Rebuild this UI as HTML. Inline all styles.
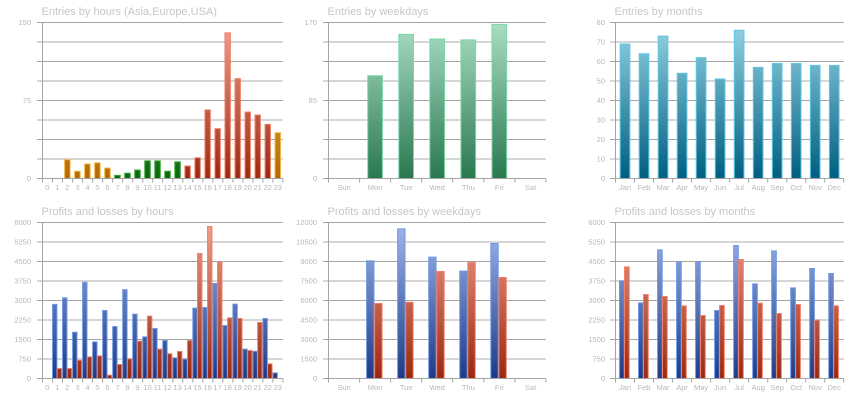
<!DOCTYPE html>
<html><head><meta charset="utf-8"><style>
html,body{margin:0;padding:0;background:#fff;}
svg{display:block;}
.t{font-family:"Liberation Sans",Arial,sans-serif;font-size:11px;fill:#c6c6c6;}
.l{font-family:"Liberation Sans",Arial,sans-serif;font-size:7.5px;fill:#b8b8b8;}
.r{text-anchor:end;}
.m{text-anchor:middle;}
.gd{stroke:#a4a4a4;stroke-width:1;fill:none;}
.gl{stroke:#d6d6d6;stroke-width:2;fill:none;}
rect{vector-effect:non-scaling-stroke;stroke-width:1;}
</style></head><body>
<svg width="860" height="400" viewBox="0 0 860 400" xmlns="http://www.w3.org/2000/svg">
<defs>
<linearGradient id="gO" gradientUnits="userSpaceOnUse" x1="0" y1="150" x2="0" y2="0"><stop offset="0" stop-color="#f5c878"/><stop offset="1" stop-color="#b26800"/></linearGradient>
<linearGradient id="gG" gradientUnits="userSpaceOnUse" x1="0" y1="150" x2="0" y2="0"><stop offset="0" stop-color="#80d080"/><stop offset="1" stop-color="#0c660c"/></linearGradient>
<linearGradient id="gR" gradientUnits="userSpaceOnUse" x1="0" y1="150" x2="0" y2="0"><stop offset="0" stop-color="#f0a290"/><stop offset="1" stop-color="#9c2810"/></linearGradient>
<linearGradient id="gW" gradientUnits="userSpaceOnUse" x1="0" y1="170" x2="0" y2="0"><stop offset="0" stop-color="#aadec4"/><stop offset="1" stop-color="#2a7850"/></linearGradient>
<linearGradient id="gT" gradientUnits="userSpaceOnUse" x1="0" y1="80" x2="0" y2="0"><stop offset="0" stop-color="#96d4e4"/><stop offset="1" stop-color="#005e80"/></linearGradient>
<linearGradient id="gB6" gradientUnits="userSpaceOnUse" x1="0" y1="6000" x2="0" y2="0"><stop offset="0" stop-color="#a0b8ec"/><stop offset="1" stop-color="#1c3a88"/></linearGradient>
<linearGradient id="gR6" gradientUnits="userSpaceOnUse" x1="0" y1="6000" x2="0" y2="0"><stop offset="0" stop-color="#f0a08c"/><stop offset="1" stop-color="#9a2810"/></linearGradient>
<linearGradient id="gB12" gradientUnits="userSpaceOnUse" x1="0" y1="12000" x2="0" y2="0"><stop offset="0" stop-color="#a0b8ec"/><stop offset="1" stop-color="#1c3a88"/></linearGradient>
<linearGradient id="gR12" gradientUnits="userSpaceOnUse" x1="0" y1="12000" x2="0" y2="0"><stop offset="0" stop-color="#f0a08c"/><stop offset="1" stop-color="#9a2810"/></linearGradient>
</defs>

<!-- ===== Chart 1 ===== -->
<text class="t" x="41.5" y="15">Entries by hours (Asia,Europe,USA)</text>
<path class="gl" d="M37 42H282.7M37 81H282.7M37 120H282.7M37 159H282.7"/>
<path class="gd" d="M37 22.5H282.7M37 61.5H282.7M37 100.5H282.7M37 139.5H282.7"/>
<g transform="translate(42.3,178.5) scale(1.002,-1.04)">
<g fill="url(#gO)" stroke="#f0b040">
<rect x="22.3" y="0" width="5.4" height="18"/>
<rect x="32.3" y="0" width="5.4" height="7"/>
<rect x="42.3" y="0" width="5.4" height="14"/>
<rect x="52.3" y="0" width="5.4" height="15"/>
<rect x="62.3" y="0" width="5.4" height="10"/>
<rect x="232.3" y="0" width="5.4" height="44"/>
</g>
<g fill="url(#gG)" stroke="#2ea02e">
<rect x="72.3" y="0" width="5.4" height="3"/>
<rect x="82.3" y="0" width="5.4" height="5"/>
<rect x="92.3" y="0" width="5.4" height="8"/>
<rect x="102.3" y="0" width="5.4" height="17"/>
<rect x="112.3" y="0" width="5.4" height="17"/>
<rect x="122.3" y="0" width="5.4" height="7"/>
<rect x="132.3" y="0" width="5.4" height="16"/>
</g>
<g fill="url(#gR)" stroke="#f08068">
<rect x="142.3" y="0" width="5.4" height="12"/>
<rect x="152.3" y="0" width="5.4" height="20"/>
<rect x="162.3" y="0" width="5.4" height="66"/>
<rect x="172.3" y="0" width="5.4" height="48"/>
<rect x="182.3" y="0" width="5.4" height="140"/>
<rect x="192.3" y="0" width="5.4" height="96"/>
<rect x="202.3" y="0" width="5.4" height="64"/>
<rect x="212.3" y="0" width="5.4" height="61"/>
<rect x="222.3" y="0" width="5.4" height="52"/>
</g>
</g>
<path class="gd" d="M37 178.5H282.7M42.5 22.5V178.5"/>
<path class="gd" d="M42.5 178.5v4M52.5 178.5v4M62.5 178.5v4M72.6 178.5v4M82.6 178.5v4M92.6 178.5v4M102.6 178.5v4M112.6 178.5v4M122.7 178.5v4M132.7 178.5v4M142.7 178.5v4M152.7 178.5v4M162.7 178.5v4M172.8 178.5v4M182.8 178.5v4M192.8 178.5v4M202.8 178.5v4M212.8 178.5v4M222.8 178.5v4M232.9 178.5v4M242.9 178.5v4M252.9 178.5v4M262.9 178.5v4M272.9 178.5v4M283 178.5v4"/>
<text class="l r" x="31" y="25">150</text>
<text class="l r" x="31" y="103">75</text>
<text class="l r" x="31" y="181">0</text>
<g class="l m">
<text x="47.3" y="190">0</text><text x="57.3" y="190">1</text><text x="67.3" y="190">2</text><text x="77.4" y="190">3</text><text x="87.4" y="190">4</text><text x="97.4" y="190">5</text><text x="107.4" y="190">6</text><text x="117.4" y="190">7</text><text x="127.5" y="190">8</text><text x="137.5" y="190">9</text><text x="147.5" y="190">10</text><text x="157.5" y="190">11</text><text x="167.5" y="190">12</text><text x="177.6" y="190">13</text><text x="187.6" y="190">14</text><text x="197.6" y="190">15</text><text x="207.6" y="190">16</text><text x="217.6" y="190">17</text><text x="227.7" y="190">18</text><text x="237.7" y="190">19</text><text x="247.7" y="190">20</text><text x="257.7" y="190">21</text><text x="267.7" y="190">22</text><text x="277.8" y="190">23</text>
</g>

<!-- ===== Chart 2 ===== -->
<text class="t" x="327.5" y="15">Entries by weekdays</text>
<path class="gl" d="M323 42H545.7M323 81H545.7M323 120H545.7M323 159H545.7"/>
<path class="gd" d="M323 22.5H545.7M323 61.5H545.7M323 100.5H545.7M323 139.5H545.7"/>
<g transform="translate(328.5,178.5) scale(1,-0.91765)" fill="url(#gW)" stroke="#78d8a8">
<rect x="39.24" y="0" width="14.7" height="112"/>
<rect x="70.3" y="0" width="14.7" height="157"/>
<rect x="101.36" y="0" width="14.7" height="152"/>
<rect x="132.42" y="0" width="14.7" height="151"/>
<rect x="163.48" y="0" width="14.7" height="168"/>
</g>
<path class="gd" d="M323 178.5H545.7M328.5 22.5V178.5"/>
<path class="gd" d="M328.5 178.5v4M359.6 178.5v4M390.6 178.5v4M421.7 178.5v4M452.7 178.5v4M483.8 178.5v4M514.9 178.5v4M545.9 178.5v4"/>
<text class="l r" x="317" y="25">170</text>
<text class="l r" x="317" y="103">85</text>
<text class="l r" x="317" y="181">0</text>
<g class="l m">
<text x="344" y="190">Sun</text><text x="375.1" y="190">Mon</text><text x="406.2" y="190">Tue</text><text x="437.2" y="190">Wed</text><text x="468.3" y="190">Thu</text><text x="499.3" y="190">Fri</text><text x="530.4" y="190">Sat</text>
</g>

<!-- ===== Chart 3 ===== -->
<text class="t" x="614.5" y="15">Entries by months</text>
<path class="gl" d="M610 42H843.7M610 81H843.7M610 120H843.7M610 159H843.7"/>
<path class="gd" d="M610 22.5H843.7M610 61.5H843.7M610 100.5H843.7M610 139.5H843.7"/>
<g transform="translate(615.5,178.5) scale(1,-1.95)" fill="url(#gT)" stroke="#5cc8e4">
<rect x="4.66" y="0" width="9.7" height="69"/>
<rect x="23.68" y="0" width="9.7" height="64"/>
<rect x="42.7" y="0" width="9.7" height="73"/>
<rect x="61.72" y="0" width="9.7" height="54"/>
<rect x="80.74" y="0" width="9.7" height="62"/>
<rect x="99.76" y="0" width="9.7" height="51"/>
<rect x="118.78" y="0" width="9.7" height="76"/>
<rect x="137.8" y="0" width="9.7" height="57"/>
<rect x="156.82" y="0" width="9.7" height="59"/>
<rect x="175.84" y="0" width="9.7" height="59"/>
<rect x="194.86" y="0" width="9.7" height="58"/>
<rect x="213.88" y="0" width="9.7" height="58"/>
</g>
<path class="gd" d="M610 178.5H843.7M615.5 22.5V178.5"/>
<path class="gd" d="M615.5 178.5v4M634.5 178.5v4M653.5 178.5v4M672.6 178.5v4M691.6 178.5v4M710.6 178.5v4M729.6 178.5v4M748.6 178.5v4M767.7 178.5v4M786.7 178.5v4M805.7 178.5v4M824.7 178.5v4M843.7 178.5v4"/>
<g class="l r">
<text x="605" y="25">80</text><text x="605" y="44.5">70</text><text x="605" y="64">60</text><text x="605" y="83.5">50</text><text x="605" y="103">40</text><text x="605" y="122.5">30</text><text x="605" y="142">20</text><text x="605" y="161.5">10</text><text x="605" y="181">0</text>
</g>
<g class="l m">
<text x="625" y="190">Jan</text><text x="644" y="190">Feb</text><text x="663" y="190">Mar</text><text x="682.1" y="190">Apr</text><text x="701.1" y="190">May</text><text x="720.1" y="190">Jun</text><text x="739.1" y="190">Jul</text><text x="758.2" y="190">Aug</text><text x="777.2" y="190">Sep</text><text x="796.2" y="190">Oct</text><text x="815.2" y="190">Nov</text><text x="834.2" y="190">Dec</text>
</g>

<!-- ===== Chart 4 ===== -->
<text class="t" x="41.5" y="215">Profits and losses by hours</text>
<path class="gl" d="M37 242H282.7M37 281H282.7M37 320H282.7M37 359H282.7"/>
<path class="gd" d="M37 222.5H282.7M37 261.5H282.7M37 300.5H282.7M37 339.5H282.7"/>
<g transform="translate(42.3,378.5) scale(1.002,-0.026)">
<g fill="url(#gB6)" stroke="#7098e0">
<rect x="10.2" y="0" width="4.4" height="2850"/>
<rect x="20.2" y="0" width="4.4" height="3100"/>
<rect x="30.2" y="0" width="4.4" height="1780"/>
<rect x="40.2" y="0" width="4.4" height="3700"/>
<rect x="50.2" y="0" width="4.4" height="1410"/>
<rect x="60.2" y="0" width="4.4" height="2615"/>
<rect x="70.2" y="0" width="4.4" height="2000"/>
<rect x="80.2" y="0" width="4.4" height="3420"/>
<rect x="90.2" y="0" width="4.4" height="2474"/>
<rect x="100.2" y="0" width="4.4" height="1600"/>
<rect x="110.2" y="0" width="4.4" height="1923"/>
<rect x="120.2" y="0" width="4.4" height="1460"/>
<rect x="130.2" y="0" width="4.4" height="795"/>
<rect x="140.2" y="0" width="4.4" height="745"/>
<rect x="150.2" y="0" width="4.4" height="2705"/>
<rect x="160.2" y="0" width="4.4" height="2730"/>
<rect x="170.2" y="0" width="4.4" height="3654"/>
<rect x="180.2" y="0" width="4.4" height="2040"/>
<rect x="190.2" y="0" width="4.4" height="2860"/>
<rect x="200.2" y="0" width="4.4" height="1128"/>
<rect x="210.2" y="0" width="4.4" height="1050"/>
<rect x="220.2" y="0" width="4.4" height="2308"/>
<rect x="230.2" y="0" width="4.4" height="218"/>
</g>
<g fill="url(#gR6)" stroke="#f08068">
<rect x="14.9" y="0" width="4.4" height="385"/>
<rect x="24.9" y="0" width="4.4" height="385"/>
<rect x="34.9" y="0" width="4.4" height="700"/>
<rect x="44.9" y="0" width="4.4" height="833"/>
<rect x="54.9" y="0" width="4.4" height="870"/>
<rect x="64.9" y="0" width="4.4" height="130"/>
<rect x="74.9" y="0" width="4.4" height="540"/>
<rect x="84.9" y="0" width="4.4" height="756"/>
<rect x="94.9" y="0" width="4.4" height="1436"/>
<rect x="104.9" y="0" width="4.4" height="2400"/>
<rect x="114.9" y="0" width="4.4" height="1128"/>
<rect x="124.9" y="0" width="4.4" height="950"/>
<rect x="134.9" y="0" width="4.4" height="1040"/>
<rect x="144.9" y="0" width="4.4" height="1460"/>
<rect x="154.9" y="0" width="4.4" height="4808"/>
<rect x="164.9" y="0" width="4.4" height="5846"/>
<rect x="174.9" y="0" width="4.4" height="4487"/>
<rect x="184.9" y="0" width="4.4" height="2333"/>
<rect x="194.9" y="0" width="4.4" height="2308"/>
<rect x="204.9" y="0" width="4.4" height="1077"/>
<rect x="214.9" y="0" width="4.4" height="2154"/>
<rect x="224.9" y="0" width="4.4" height="564"/>
</g>
</g>
<path class="gd" d="M37 378.5H282.7M42.5 222.5V378.5"/>
<path class="gd" d="M42.5 378.5v4M52.5 378.5v4M62.5 378.5v4M72.6 378.5v4M82.6 378.5v4M92.6 378.5v4M102.6 378.5v4M112.6 378.5v4M122.7 378.5v4M132.7 378.5v4M142.7 378.5v4M152.7 378.5v4M162.7 378.5v4M172.8 378.5v4M182.8 378.5v4M192.8 378.5v4M202.8 378.5v4M212.8 378.5v4M222.8 378.5v4M232.9 378.5v4M242.9 378.5v4M252.9 378.5v4M262.9 378.5v4M272.9 378.5v4M283 378.5v4"/>
<g class="l r">
<text x="31" y="225">6000</text><text x="31" y="244.5">5250</text><text x="31" y="264">4500</text><text x="31" y="283.5">3750</text><text x="31" y="303">3000</text><text x="31" y="322.5">2250</text><text x="31" y="342">1500</text><text x="31" y="361.5">750</text><text x="31" y="381">0</text>
</g>
<g class="l m">
<text x="47.3" y="390">0</text><text x="57.3" y="390">1</text><text x="67.3" y="390">2</text><text x="77.4" y="390">3</text><text x="87.4" y="390">4</text><text x="97.4" y="390">5</text><text x="107.4" y="390">6</text><text x="117.4" y="390">7</text><text x="127.5" y="390">8</text><text x="137.5" y="390">9</text><text x="147.5" y="390">10</text><text x="157.5" y="390">11</text><text x="167.5" y="390">12</text><text x="177.6" y="390">13</text><text x="187.6" y="390">14</text><text x="197.6" y="390">15</text><text x="207.6" y="390">16</text><text x="217.6" y="390">17</text><text x="227.7" y="390">18</text><text x="237.7" y="390">19</text><text x="247.7" y="390">20</text><text x="257.7" y="390">21</text><text x="267.7" y="390">22</text><text x="277.8" y="390">23</text>
</g>

<!-- ===== Chart 5 ===== -->
<text class="t" x="327.5" y="215">Profits and losses by weekdays</text>
<path class="gl" d="M323 242H545.7M323 281H545.7M323 320H545.7M323 359H545.7"/>
<path class="gd" d="M323 222.5H545.7M323 261.5H545.7M323 300.5H545.7M323 339.5H545.7"/>
<g transform="translate(328.5,378.5) scale(1,-0.013)">
<g fill="url(#gB12)" stroke="#7098e0">
<rect x="38.06" y="0" width="7.4" height="9050"/>
<rect x="69.12" y="0" width="7.4" height="11513"/>
<rect x="100.18" y="0" width="7.4" height="9333"/>
<rect x="131.24" y="0" width="7.4" height="8256"/>
<rect x="162.3" y="0" width="7.4" height="10385"/>
</g>
<g fill="url(#gR12)" stroke="#f08068">
<rect x="46.16" y="0" width="7.4" height="5770"/>
<rect x="77.22" y="0" width="7.4" height="5870"/>
<rect x="108.28" y="0" width="7.4" height="8230"/>
<rect x="139.34" y="0" width="7.4" height="8923"/>
<rect x="170.4" y="0" width="7.4" height="7770"/>
</g>
</g>
<path class="gd" d="M323 378.5H545.7M328.5 222.5V378.5"/>
<path class="gd" d="M328.5 378.5v4M359.6 378.5v4M390.6 378.5v4M421.7 378.5v4M452.7 378.5v4M483.8 378.5v4M514.9 378.5v4M545.9 378.5v4"/>
<g class="l r">
<text x="317" y="225">12000</text><text x="317" y="244.5">10500</text><text x="317" y="264">9000</text><text x="317" y="283.5">7500</text><text x="317" y="303">6000</text><text x="317" y="322.5">4500</text><text x="317" y="342">3000</text><text x="317" y="361.5">1500</text><text x="317" y="381">0</text>
</g>
<g class="l m">
<text x="344" y="390">Sun</text><text x="375.1" y="390">Mon</text><text x="406.2" y="390">Tue</text><text x="437.2" y="390">Wed</text><text x="468.3" y="390">Thu</text><text x="499.3" y="390">Fri</text><text x="530.4" y="390">Sat</text>
</g>

<!-- ===== Chart 6 ===== -->
<text class="t" x="614.5" y="215">Profits and losses by months</text>
<path class="gl" d="M610 242H843.7M610 281H843.7M610 320H843.7M610 359H843.7"/>
<path class="gd" d="M610 222.5H843.7M610 261.5H843.7M610 300.5H843.7M610 339.5H843.7"/>
<g transform="translate(615.5,378.5) scale(1,-0.026)">
<g fill="url(#gB6)" stroke="#7098e0">
<rect x="4" y="0" width="4.7" height="3756"/>
<rect x="23.02" y="0" width="4.7" height="2910"/>
<rect x="42.04" y="0" width="4.7" height="4949"/>
<rect x="61.06" y="0" width="4.7" height="4487"/>
<rect x="80.08" y="0" width="4.7" height="4500"/>
<rect x="99.1" y="0" width="4.7" height="2615"/>
<rect x="118.12" y="0" width="4.7" height="5115"/>
<rect x="137.14" y="0" width="4.7" height="3641"/>
<rect x="156.16" y="0" width="4.7" height="4910"/>
<rect x="175.18" y="0" width="4.7" height="3487"/>
<rect x="194.2" y="0" width="4.7" height="4231"/>
<rect x="213.22" y="0" width="4.7" height="4038"/>
</g>
<g fill="url(#gR6)" stroke="#f08068">
<rect x="9" y="0" width="4.7" height="4295"/>
<rect x="28.02" y="0" width="4.7" height="3230"/>
<rect x="47.04" y="0" width="4.7" height="3154"/>
<rect x="66.06" y="0" width="4.7" height="2795"/>
<rect x="85.08" y="0" width="4.7" height="2423"/>
<rect x="104.1" y="0" width="4.7" height="2808"/>
<rect x="123.12" y="0" width="4.7" height="4577"/>
<rect x="142.14" y="0" width="4.7" height="2897"/>
<rect x="161.16" y="0" width="4.7" height="2500"/>
<rect x="180.18" y="0" width="4.7" height="2846"/>
<rect x="199.2" y="0" width="4.7" height="2244"/>
<rect x="218.22" y="0" width="4.7" height="2795"/>
</g>
</g>
<path class="gd" d="M610 378.5H843.7M615.5 222.5V378.5"/>
<path class="gd" d="M615.5 378.5v4M634.5 378.5v4M653.5 378.5v4M672.6 378.5v4M691.6 378.5v4M710.6 378.5v4M729.6 378.5v4M748.6 378.5v4M767.7 378.5v4M786.7 378.5v4M805.7 378.5v4M824.7 378.5v4M843.7 378.5v4"/>
<g class="l r">
<text x="605" y="225">6000</text><text x="605" y="244.5">5250</text><text x="605" y="264">4500</text><text x="605" y="283.5">3750</text><text x="605" y="303">3000</text><text x="605" y="322.5">2250</text><text x="605" y="342">1500</text><text x="605" y="361.5">750</text><text x="605" y="381">0</text>
</g>
<g class="l m">
<text x="625" y="390">Jan</text><text x="644" y="390">Feb</text><text x="663" y="390">Mar</text><text x="682.1" y="390">Apr</text><text x="701.1" y="390">May</text><text x="720.1" y="390">Jun</text><text x="739.1" y="390">Jul</text><text x="758.2" y="390">Aug</text><text x="777.2" y="390">Sep</text><text x="796.2" y="390">Oct</text><text x="815.2" y="390">Nov</text><text x="834.2" y="390">Dec</text>
</g>
</svg>
</body></html>
